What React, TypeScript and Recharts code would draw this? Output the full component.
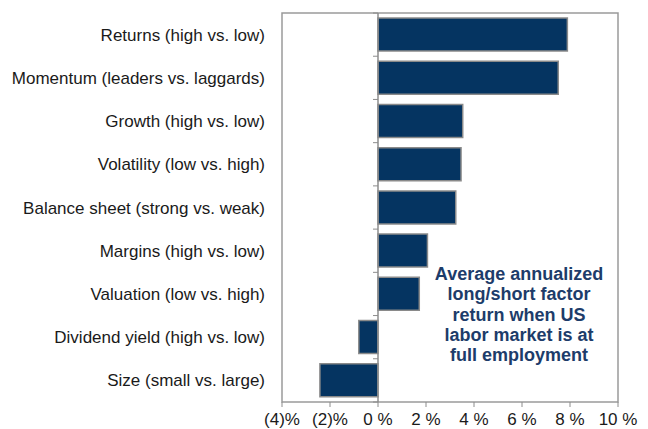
import React from 'react';
import { BarChart, Bar, XAxis, YAxis, ReferenceArea, ReferenceLine } from 'recharts';

const factors = [
  'Returns (high vs. low)',
  'Momentum (leaders vs. laggards)',
  'Growth (high vs. low)',
  'Volatility (low vs. high)',
  'Balance sheet (strong vs. weak)',
  'Margins (high vs. low)',
  'Valuation (low vs. high)',
  'Dividend yield (high vs. low)',
  'Size (small vs. large)',
];
const returns = [7.89, 7.51, 3.53, 3.46, 3.24, 2.06, 1.72, -0.8, -2.42];
const xTicks = [-4, -2, 0, 2, 4, 6, 8, 10];

const data = factors.map((name, i) => ({ name, value: returns[i] }));

const fmt = (v: number) => (v < 0 ? `(${-v})%` : `${v} %`);

const FONT = '"Liberation Sans", Arial, sans-serif';

// zero line with little ticks between the categories
const ZeroLine = (props: any) => {
  const { x1, y1, y2 } = props;
  const step = (y2 - y1) / factors.length;
  const marks = [];
  for (let i = 0; i <= factors.length; i++) {
    const y = y1 + step * i;
    marks.push(<line key={i} x1={x1 - 5} x2={x1} y1={y} y2={y} stroke="#8c8c8c" strokeWidth={1} />);
  }
  return (
    <g>
      <line x1={x1} x2={x1} y1={y1} y2={y2} stroke="#8c8c8c" strokeWidth={1.5} />
      {marks}
    </g>
  );
};

const App: React.FC = () => {
  return (
    <div style={{ position: 'absolute', left: 0, top: 0, width: 648, height: 429, fontFamily: FONT }}>
      <BarChart
        width={648}
        height={429}
        layout="vertical"
        data={data}
        margin={{ top: 13, right: 30, bottom: 2, left: 0 }}
        barCategoryGap={5}
        style={{ fontFamily: FONT }}
      >
        <ReferenceArea x1={-4} x2={10} fill="none" stroke="#9a9a9a" strokeWidth={1.5} />
        <XAxis
          type="number"
          domain={[-4, 10]}
          ticks={xTicks}
          tickFormatter={fmt}
          height={25}
          axisLine={false}
          tickLine={{ stroke: '#8c8c8c' }}
          tickSize={5}
          tickMargin={6}
          tick={{ fill: '#1a1a1a', fontSize: 17, fontFamily: FONT }}
          interval={0}
        />
        <YAxis
          type="category"
          dataKey="name"
          width={282}
          axisLine={false}
          tickLine={false}
          tickSize={0}
          tickMargin={17}
          tick={{ fill: '#1a1a1a', fontSize: 17, fontFamily: FONT }}
          interval={0}
        />
        <Bar dataKey="value" fill="#053461" stroke="#8a8a8a" strokeWidth={1.5} isAnimationActive={false} />
        <ReferenceLine x={0} shape={ZeroLine} />
      </BarChart>
      <div
        style={{
          position: 'absolute',
          left: 419,
          top: 264,
          width: 200,
          textAlign: 'center',
          color: '#1d3c6a',
          fontWeight: 'bold',
          fontSize: 18,
          lineHeight: '20.3px',
        }}
      >
        Average annualized
        <br />
        long/short factor
        <br />
        return when US
        <br />
        labor market is at
        <br />
        full employment
      </div>
    </div>
  );
};

export default App;
